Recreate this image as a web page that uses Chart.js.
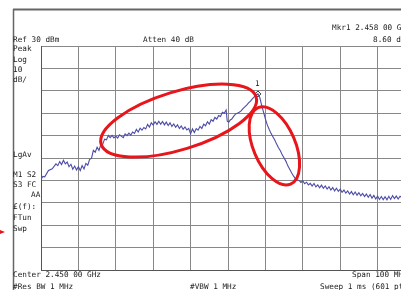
<!DOCTYPE html>
<html>
<head>
<meta charset="utf-8">
<script src="https://cdn.jsdelivr.net/npm/chart.js@4.4.1/dist/chart.umd.min.js"></script>
<style>
  html, body { margin:0; padding:0; width:401px; height:290px; overflow:hidden; background:#fff; }
  #wrap { position:absolute; left:0; top:0; width:430px; height:290px; }
  canvas { position:absolute; left:0; top:0; }
  .t { position:absolute; font-family:"DejaVu Sans Mono", "Liberation Mono", monospace; font-size:7.7px; line-height:10px; color:#222; white-space:pre; }
</style>
</head>
<body>
<div id="wrap">
  <canvas id="c" width="430" height="290"></canvas>
  <div class="t" style="left:13px;top:35px">Ref 30 dBm</div>
  <div class="t" style="left:143px;top:35px">Atten 40 dB</div>
  <div class="t" style="left:332px;top:23px">Mkr1 2.458 00 GHz</div>
  <div class="t" style="left:373px;top:35px">8.60 dBm</div>
  <div class="t" style="left:13px;top:44px">Peak</div>
  <div class="t" style="left:13px;top:55px">Log</div>
  <div class="t" style="left:13px;top:65px">10</div>
  <div class="t" style="left:13px;top:75px">dB/</div>
  <div class="t" style="left:13px;top:150px">LgAv</div>
  <div class="t" style="left:13px;top:170px">M1 S2</div>
  <div class="t" style="left:13px;top:180px">S3 FC</div>
  <div class="t" style="left:31px;top:190px">AA</div>
  <div class="t" style="left:13px;top:202px">£(f):</div>
  <div class="t" style="left:13px;top:213px">FTun</div>
  <div class="t" style="left:13px;top:224px">Swp</div>
  <div class="t" style="left:255px;top:79px">1</div>
  <div class="t" style="left:13px;top:270px">Center 2.450 00 GHz</div>
  <div class="t" style="left:352px;top:270px">Span 100 MHz</div>
  <div class="t" style="left:13px;top:282px">#Res BW 1 MHz</div>
  <div class="t" style="left:190px;top:282px">#VBW 1 MHz</div>
  <div class="t" style="left:320px;top:282px">Sweep 1 ms (601 pts)</div>
</div>
<script>
// Frequency offset from 2.400 GHz (MHz) and trace level (dBm)
const freqOffsetMHz = [
  0,0.5,1,2,3,4,4.5,5,5.5,6,6.5,7,7.5,8,8.5,9,9.5,10,10.5,11,11.5,12,12.5,13,13.5,14,14.5,15,15.5,16,16.5,17,17.5,18,18.5,19,19.5,20,20.5,21,22,22.5,23,23.5,24,24.5,25,25.5,26,26.5,27,27.5,28,28.5,29,29.5,30,30.5,31,31.5,32,32.5,33,33.5,34,34.5,35,35.5,36,36.5,37,37.5,38,38.5,39,39.5,40,40.5,41,41.5,42,42.5,43,43.5,44,44.5,45,45.5,46,46.5,47,47.5,48,48.5,49,49.5,49.8,50.2,50.6,51,51.5,52,52.5,53,53.5,54,54.5,55,55.5,56,56.5,57,57.5,58,58.5,59,59.5,60,60.5,61,61.5,62,62.5,63,63.5,64,64.5,65,65.5,66,66.5,67,67.5,68,68.5,69,69.5,70,70.5,71,71.5,72,72.5,73,73.5,74,74.5,75,75.5,76,76.5,77,77.5,78,78.5,79,79.5,80,80.5,81,81.5,82,82.5,83,83.5,84,84.5,85,85.5,86,86.5,87,87.5,88,88.5,89,89.5,90,90.5,91,91.5,92,92.5,93,93.5,94,94.5,95,95.5,96,97,98,99,100
];
const traceDbm = [
  -29.5,-28.2,-28.4,-25.6,-24.8,-22.6,-23.4,-21.6,-22.9,-21.0,-22.6,-21.8,-23.9,-22.8,-25.0,-23.6,-25.4,-23.9,-25.6,-23.4,-24.9,-22.4,-23.2,-20.6,-20.2,-16.6,-17.4,-15.2,-16.6,-14.0,-13.9,-11.6,-11.9,-10.0,-10.9,-9.9,-11.0,-10.2,-11.1,-9.6,-10.9,-9.2,-10.0,-8.9,-9.8,-8.4,-9.0,-7.2,-8.4,-6.7,-7.6,-6.4,-7.0,-5.0,-6.2,-4.3,-5.3,-3.8,-5.0,-3.6,-4.9,-3.7,-5.2,-4.0,-5.5,-4.3,-5.9,-4.8,-6.3,-5.2,-6.8,-5.7,-7.2,-6.1,-7.5,-6.8,-9.2,-7.0,-8.6,-6.9,-7.6,-5.9,-6.8,-4.9,-5.6,-3.8,-4.9,-2.9,-3.6,-1.9,-2.6,-1.0,-1.5,0.4,0.0,1.4,-3.6,-4.0,-3.0,-2.6,-1.4,-0.4,0.0,0.4,1.0,2.0,2.8,3.6,4.6,5.4,6.4,7.3,8.0,8.6,7.0,3.5,0.5,-2.5,-5.2,-7.2,-9.0,-10.5,-12.0,-13.8,-15.4,-16.8,-18.6,-20.0,-21.5,-23.5,-25.0,-26.6,-28.0,-29.2,-29.8,-30.0,-30.9,-30.2,-31.5,-30.8,-32.0,-31.3,-32.5,-31.4,-32.9,-32.0,-33.3,-32.1,-33.5,-32.5,-33.9,-32.8,-34.3,-33.2,-34.7,-33.5,-34.9,-33.9,-35.3,-34.3,-35.7,-34.7,-36.1,-35.0,-36.4,-35.2,-36.6,-35.5,-36.9,-35.8,-37.2,-36.1,-37.5,-36.3,-37.9,-36.7,-38.3,-37.0,-38.5,-37.2,-38.6,-37.3,-38.7,-37.1,-38.5,-36.8,-38.1,-37.0,-38.3,-37.1,-38.1,-37.3,-38.2,-37.5
];
const markerOffsetMHz = [58];
const markerDbm = [8.6];
// Annotation ellipses (centres in data units)
const ellipseCentreOffsetMHz = [36.8, 62.4];
const ellipseCentreDbm = [-3.3, -14.6];

const trace = freqOffsetMHz.map((f, i) => ({x: f, y: traceDbm[i]}));
const marker = markerOffsetMHz.map((f, i) => ({x: f, y: markerDbm[i]}));

const decor = {
  id: 'decor',
  beforeDraw(chart) {
    const ctx = chart.ctx;
    ctx.save();
    ctx.strokeStyle = '#666';
    ctx.lineWidth = 2;
    ctx.beginPath(); ctx.moveTo(13, 9.5); ctx.lineTo(430, 9.5); ctx.stroke();
    ctx.lineWidth = 1.5;
    ctx.beginPath(); ctx.moveTo(13.5, 9); ctx.lineTo(13.5, 290); ctx.stroke();
    ctx.restore();
  },
  afterDraw(chart) {
    const ctx = chart.ctx, xs = chart.scales.x, ys = chart.scales.y;
    const geo = [{a:81, b:29, rot:-17}, {a:41.5, b:21, rot:67}];
    ctx.save();
    ctx.strokeStyle = '#e8151b';
    ctx.lineWidth = 3;
    geo.forEach((g, i) => {
      const cx = xs.getPixelForValue(ellipseCentreOffsetMHz[i]);
      const cy = ys.getPixelForValue(ellipseCentreDbm[i]);
      ctx.beginPath();
      ctx.ellipse(cx, cy, g.a, g.b, g.rot * Math.PI / 180, 0, Math.PI * 2);
      ctx.stroke();
    });
    ctx.fillStyle = '#e8151b';
    ctx.beginPath(); ctx.moveTo(0, 230); ctx.lineTo(5, 232); ctx.lineTo(0, 234); ctx.closePath(); ctx.fill();
    ctx.restore();
  }
};

new Chart(document.getElementById('c'), {
  type: 'scatter',
  data: {
    datasets: [
      { data: trace, showLine: true, borderColor: '#4c4ca6', borderWidth: 1.1, pointRadius: 0, tension: 0 },
      { data: marker, showLine: false, pointStyle: 'rectRot', pointRadius: 3, borderColor: '#333', borderWidth: 1, backgroundColor: '#fff' }
    ]
  },
  options: {
    animation: false,
    responsive: false,
    devicePixelRatio: 1,
    layout: { padding: { left: 41, top: 46, right: 15, bottom: 20 } },
    plugins: { legend: { display: false }, tooltip: { enabled: false } },
    scales: {
      x: { type: 'linear', min: 0, max: 100, ticks: { display: false, stepSize: 10 },
           grid: { color: '#888', drawTicks: false }, border: { display: true, color: '#555' } },
      y: { type: 'linear', min: -70, max: 30, ticks: { display: false, stepSize: 10 },
           grid: { color: '#888', drawTicks: false }, border: { display: true, color: '#555' } }
    }
  },
  plugins: [decor]
});
</script>
</body>
</html>
